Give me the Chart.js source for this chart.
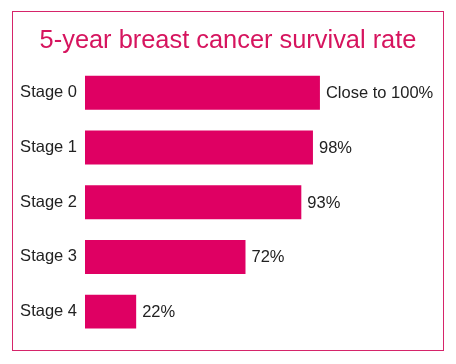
<!DOCTYPE html>
<html>
<head>
<meta charset="utf-8">
<script src="https://cdn.jsdelivr.net/npm/chart.js@4"></script>
<style>
    html, body { margin: 0; padding: 0; background: #fff; }
    #wrap { position: relative; width: 456px; height: 364px; }
    #frame {
        position: absolute; left: 12px; top: 11px; width: 430px; height: 338px;
        border: 1.5px solid #d6246a;
    }
    #chart { position: absolute; left: 0; top: 0; }
</style>
</head>
<body>
<div id="wrap">
    <div id="frame"></div>
    <canvas id="chart" width="456" height="364"></canvas>
</div>
<script>
const stages = ['Stage 0', 'Stage 1', 'Stage 2', 'Stage 3', 'Stage 4'];
// bar lengths as drawn in the picture
const survival = [101, 98, 93, 69, 22];
// text written next to each bar
const valueLabels = ['Close to 100%', '98%', '93%', '72%', '22%'];

const pink = '#df0063';
const textColor = '#222';
const fontFamily = '"Liberation Sans", Arial, Helvetica, sans-serif';

// Write the value text right after each bar
const valueLabelPlugin = {
    id: 'valueLabels',
    afterDatasetsDraw(chart) {
        const ctx = chart.ctx;
        const meta = chart.getDatasetMeta(0);
        ctx.save();
        ctx.font = '16.5px ' + fontFamily;
        ctx.fillStyle = textColor;
        ctx.textAlign = 'left';
        ctx.textBaseline = 'middle';
        meta.data.forEach((bar, i) => {
            ctx.fillText(valueLabels[i], bar.x + 6, bar.y + 1);
        });
        ctx.restore();
    }
};

const ctx = document.getElementById('chart').getContext('2d');
new Chart(ctx, {
    type: 'bar',
    data: {
        labels: stages,
        datasets: [{
            label: '5-year survival',
            data: survival,
            backgroundColor: pink,
            borderWidth: 0,
            barPercentage: 0.62,
            categoryPercentage: 1
        }]
    },
    options: {
        indexAxis: 'y',
        responsive: false,
        animation: false,
        layout: {
            padding: { left: 0, right: 0, top: 0, bottom: 25 }
        },
        plugins: {
            legend: { display: false },
            tooltip: { enabled: false },
            title: {
                display: true,
                text: '5-year breast cancer survival rate',
                color: '#d6145e',
                font: { family: fontFamily, size: 25.4, weight: 'normal' },
                padding: { top: 26, bottom: 9 }
            }
        },
        scales: {
            x: {
                display: false,
                min: 0,
                max: 159.5
            },
            y: {
                grid: { display: false, drawTicks: false },
                border: { display: false },
                ticks: {
                    color: textColor,
                    padding: 8,
                    font: { family: fontFamily, size: 16.5 }
                },
                afterFit(scale) { scale.width = 85; }
            }
        }
    },
    plugins: [valueLabelPlugin]
});
</script>
</body>
</html>
